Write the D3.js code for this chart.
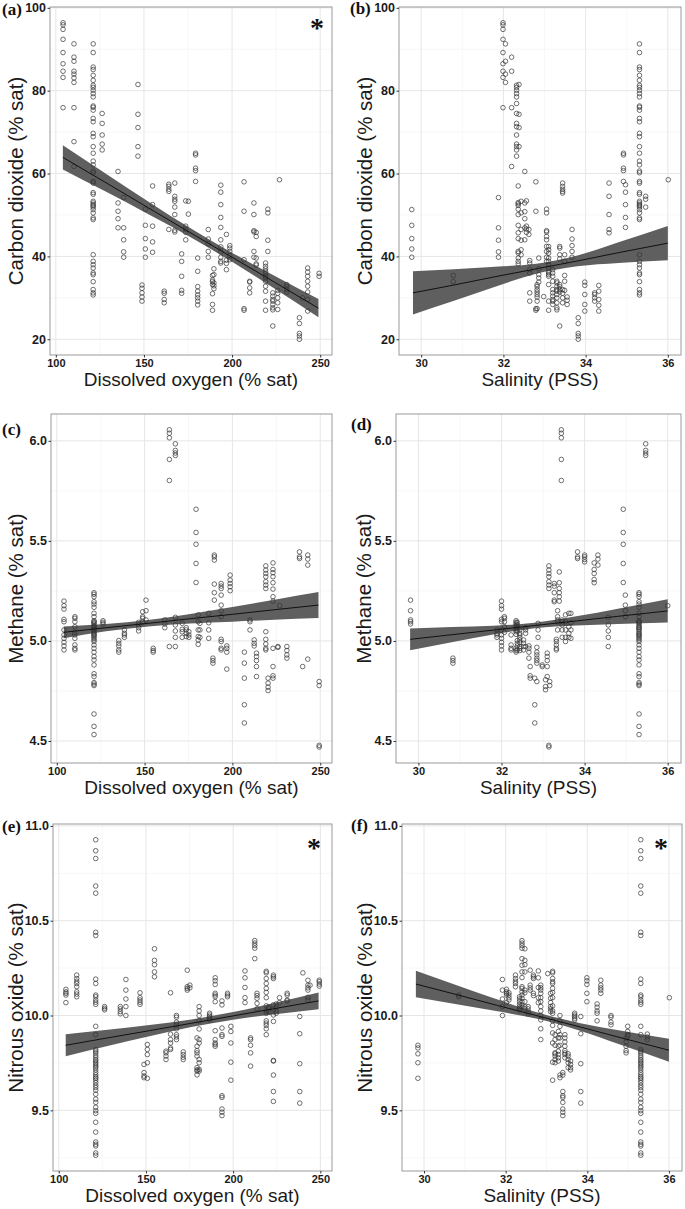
<!DOCTYPE html>
<html>
<head>
<meta charset="utf-8">
<script src="https://cdn.jsdelivr.net/npm/d3@7"></script>
<style>
  body { margin: 0; background: #fff; }
  svg { display: block; }
  .tick text { font-family: "Liberation Sans", Arial, sans-serif; font-weight: bold; fill: #1a1a1a; }
  .x-axis .tick text { font-size: 11px; }
  .y-axis .tick text { font-size: 12.5px; }
  .x-title { font-family: "Liberation Sans", Arial, sans-serif; font-size: 19px; fill: #1a1a1a; }
  .y-title { font-family: "Liberation Sans", Arial, sans-serif; font-size: 20.5px; fill: #1a1a1a; }
  .tag { font-family: "Liberation Serif", "Times New Roman", serif; font-weight: bold; font-size: 17px; fill: #111; }
  .star { font-family: "Liberation Serif", "Times New Roman", serif; font-weight: bold; font-size: 28px; fill: #111; }
</style>
</head>
<body>
<div id="chart"></div>
<script>
// ---- axis ticks ----
const doTicks = [100, 150, 200, 250];
const doMinor = [125, 175, 225];
const salTicks = [30, 32, 34, 36];
const salMinor = [31, 33, 35];
const co2Ticks = [20, 40, 60, 80, 100];
const co2Minor = [30, 50, 70, 90];
const ch4Ticks = [4.5, 5.0, 5.5, 6.0];
const ch4Minor = [4.75, 5.25, 5.75];
const n2oTicks = [9.5, 10.0, 10.5, 11.0];
const n2oMinor = [9.25, 9.75, 10.25, 10.75];

// ---- carbon dioxide ----
const co2Big = [91.3, 89.2, 85.7, 85.1, 83.7, 82.5, 81.3, 80.8, 80.1, 79.3, 78.5, 76.3, 76.0, 75.3, 73.3, 72.5, 69.7, 68.9, 66.5, 64.9, 63.0, 62.1, 60.6, 60.2, 58.1, 57.7, 55.4, 55.0, 53.3, 52.9, 52.5, 52.2, 51.9, 51.3, 50.5, 49.3, 48.9, 40.4, 38.8, 38.0, 37.2, 36.0, 35.6, 33.9, 32.0, 31.2, 30.7];
const co2Top = [96.4, 95.9, 94.8, 92.4, 89.2, 86.5, 84.7, 83.2, 75.9];

const doCO2 = [
  [104.1, co2Top],
  [110.3, [91.3, 88.1, 87.1, 84.7, 84.0, 83.1, 82.0, 75.9, 67.7, 61.7]],
  [121.2, co2Big],
  [126.3, [74.5, 72.1, 69.3, 67.1, 65.7]],
  [135.3, [60.5, 52.9, 50.9, 49.1, 46.9]],
  [138.5, [54.2, 46.9, 44.0, 41.1, 39.8]],
  [146.6, [81.5, 74.3, 71.1, 66.5, 64.2]],
  [148.9, [33.1, 32.3, 31.2, 30.2, 29.2]],
  [150.8, [51.4, 47.5, 44.3, 41.8, 39.8]],
  [154.9, [57.0, 52.5, 47.3, 43.5, 41.0]],
  [161.5, [31.6, 31.1, 29.6, 28.8]],
  [164.1, [57.4, 56.9, 56.2, 55.7, 46.5]],
  [167.5, [57.7, 54.5, 53.8, 53.3, 51.9, 50.1, 46.3, 45.9]],
  [171.4, [40.6, 38.8, 35.2, 31.8, 31.1]],
  [173.7, [53.4, 47.3, 46.6, 45.8, 44.0]],
  [175.2, [53.3, 50.2]],
  [179.3, [64.9, 64.5, 61.3, 60.7, 58.1]],
  [180.5, [39.6, 36.4, 32.7, 31.6, 30.7, 30.0, 29.2, 28.3]],
  [186.5, [46.5, 44.2, 43.0, 41.2, 39.8]],
  [188.9, [35.4, 34.3, 33.9, 33.2, 31.0, 28.4, 27.0]],
  [189.7, [37.0, 35.6, 33.6, 32.9, 32.2]],
  [193.6, [57.2, 55.5, 52.5, 49.4, 47.0, 44.0, 42.3, 41.1, 39.8, 38.8, 38.4]],
  [196.8, [45.3, 39.1, 38.3, 36.8]],
  [198.7, [42.6, 42.0, 41.2, 40.2, 39.2]],
  [206.8, [58.0, 50.9, 39.2, 27.4, 27.0]],
  [210.0, [34.0, 33.8, 32.4, 31.2]],
  [212.4, [52.9, 50.1, 46.2, 45.9, 41.2, 39.8]],
  [213.7, [45.8, 44.8, 39.6, 38.2, 37.9]],
  [219.0, [38.4, 37.6, 37.0, 36.4, 35.9, 35.2, 34.8, 34.0, 32.8, 31.6, 29.2, 27.0]],
  [220.3, [51.4, 50.5, 43.9, 41.2]],
  [223.1, [31.2, 30.4, 29.6, 29.2, 28.4, 27.6, 27.1, 23.2]],
  [225.9, [31.8, 31.1, 30.0, 28.8, 27.2]],
  [226.9, [58.5]],
  [231.0, [33.2, 32.7, 32.0, 31.4]],
  [238.2, [25.2, 23.8, 21.4, 20.8, 20.0]],
  [240.0, [30.0]],
  [242.9, [37.2, 36.2, 35.2, 34.0, 32.8, 31.4, 29.6, 26.8]],
  [249.4, [35.9, 35.2]]
];

const salCO2 = [
  [29.77, [51.3, 47.5, 44.3, 41.8, 39.8]],
  [30.78, [35.4, 33.9]],
  [31.88, [54.2, 46.9, 43.9, 41.1, 39.8]],
  [31.99, co2Top],
  [32.05, [91.3, 87.1, 84.0, 82.0]],
  [32.2, [88.1, 84.7, 75.9, 61.7]],
  [32.32, [81.3, 80.8, 80.1, 79.3, 78.5, 76.9, 74.5, 72.1, 71.3, 69.3, 67.1, 66.5, 65.7, 64.2]],
  [32.38, [81.5, 74.3, 71.1, 66.5]],
  [32.36, [57.0, 53.0, 52.7, 52.3, 51.4, 50.1, 47.5, 45.7, 44.3, 41.2, 40.8, 39.6, 38.8, 38.2]],
  [32.43, [53.3, 50.5, 46.5, 43.9, 41.6, 40.4]],
  [32.52, [60.5, 52.9, 50.8, 49.1, 46.9, 44.0]],
  [32.56, [53.4, 47.3, 46.6, 45.8]],
  [32.62, [46.5, 45.3]],
  [32.64, [39.0, 38.4, 36.8, 36.0, 31.2, 29.2]],
  [32.79, [58.0, 50.9, 27.4, 27.0]],
  [32.82, [33.2, 32.7, 32.0, 31.4, 30.8, 30.2, 29.2, 27.4]],
  [32.86, [39.6, 37.0, 35.6, 34.8, 33.8]],
  [32.98, [30.3]],
  [33.05, [51.4, 50.5, 46.2, 45.9, 44.8, 44.0, 42.4, 41.2, 39.8, 38.8]],
  [33.1, [42.4, 41.6, 40.8, 39.6, 38.8, 38.0, 37.2, 36.4, 36.0, 35.6, 35.2, 33.2, 29.2, 27.0]],
  [33.2, [36.8, 36.0, 35.2, 34.0, 32.0, 31.2, 30.4, 29.6, 29.2, 28.4]],
  [33.3, [34.0, 33.6, 32.8, 32.0, 31.6, 30.8, 30.0, 28.8, 27.6, 27.1]],
  [33.37, [42.4, 42.0, 40.4, 39.4, 33.2, 32.7, 32.0, 31.4, 23.2]],
  [33.44, [57.7, 56.9, 56.2, 55.7, 55.3, 32.0, 31.1, 30.0, 28.8]],
  [33.49, [40.4, 38.8, 35.4, 34.0, 31.8]],
  [33.55, [30.2, 29.4, 28.4]],
  [33.67, [46.5, 44.2, 42.6, 41.2, 39.8]],
  [33.82, [25.2, 23.8, 21.4, 20.8, 20.0]],
  [33.98, [33.8, 33.0, 30.8, 28.4, 26.8]],
  [34.22, [31.2, 30.8, 30.0, 29.2]],
  [34.32, [33.0, 31.6, 29.6, 28.2, 26.8]],
  [34.57, [57.7, 54.5, 50.1, 46.5, 45.7]],
  [34.92, [64.9, 64.5, 61.3, 60.7, 58.1]],
  [34.97, [57.3, 55.5, 52.5, 49.4, 47.0]],
  [35.31, co2Big],
  [35.46, [54.5, 53.8, 51.9]],
  [36.01, [58.5]]
];

// ---- methane ----
const ch4Big = [5.241, 5.233, 5.221, 5.196, 5.184, 5.168, 5.138, 5.121, 5.101, 5.096, 5.091, 5.085, 5.076, 5.071, 5.066, 5.060, 5.055, 5.046, 5.038, 5.033, 5.027, 5.022, 5.013, 5.005, 4.997, 4.980, 4.963, 4.944, 4.922, 4.905, 4.880, 4.836, 4.822, 4.792, 4.784, 4.777, 4.635, 4.573, 4.532];
const ch4Top = [5.199, 5.176, 5.159, 5.108, 5.096, 5.055, 5.030, 5.013, 4.993, 4.975, 4.955];

const doCH4 = [
  [104.1, ch4Top],
  [110.3, [5.121, 5.113, 5.096, 5.071, 5.043, 5.030, 5.013, 4.980, 4.963, 4.955]],
  [121.2, ch4Big],
  [126.3, [5.101, 5.093, 5.085]],
  [135.3, [5.002, 4.988, 4.975, 4.955, 4.944]],
  [138.5, [5.055, 5.038, 5.030, 5.018]],
  [146.6, [5.093, 5.080, 5.066, 5.050]],
  [148.9, [5.146, 5.121, 5.113, 5.096]],
  [150.8, [5.204, 5.151, 5.105]],
  [154.9, [4.963, 4.952, 4.944]],
  [161.5, [5.105, 5.085, 5.066]],
  [164.1, [6.055, 6.038, 6.015, 5.907, 5.802, 4.972]],
  [167.5, [5.985, 5.952, 5.939, 5.927, 5.118, 5.080, 5.050, 5.018, 4.972]],
  [171.4, [5.088, 5.058, 5.046, 5.018]],
  [173.7, [5.066, 5.055, 5.038, 5.022]],
  [175.2, [5.046, 5.030, 5.018]],
  [179.3, [5.658, 5.542, 5.483, 5.387, 5.292]],
  [180.5, [5.130, 5.096, 5.055, 5.022, 5.005, 4.983]],
  [181.5, [5.088, 5.055, 5.018]],
  [186.5, [5.138, 5.091, 5.055, 5.013]],
  [188.9, [4.914, 4.902, 4.889]],
  [189.7, [5.429, 5.420, 5.404, 5.284, 5.241, 5.204]],
  [193.6, [5.287, 5.274, 5.262, 5.229, 5.179, 5.151, 5.121, 5.008, 4.997, 4.963, 4.955]],
  [196.8, [4.975, 4.963, 4.944, 4.859]],
  [198.7, [5.329, 5.304, 5.287, 5.271, 5.251]],
  [206.8, [4.944, 4.889, 4.814, 4.681, 4.590]],
  [210.0, [5.105, 5.096, 5.055]],
  [212.4, [5.005, 4.988, 4.975]],
  [213.7, [4.939, 4.922, 4.902, 4.872, 4.822]],
  [219.0, [5.375, 5.354, 5.337, 5.321, 5.296, 5.279, 5.262, 5.046, 5.008, 4.985, 4.963, 4.955]],
  [220.3, [4.814, 4.789, 4.769, 4.752]],
  [223.1, [5.390, 5.357, 5.341, 5.321, 5.291, 5.259, 5.221, 5.199, 4.963, 4.872, 4.826, 4.814]],
  [225.9, [4.972, 4.968]],
  [226.9, [5.176]],
  [231.0, [4.972, 4.952, 4.930, 4.914]],
  [238.2, [5.445, 5.420, 5.412]],
  [240.0, [4.872]],
  [242.9, [5.429, 5.409, 5.379, 4.909]],
  [249.4, [4.797, 4.777, 4.478, 4.470]]
];

const salCH4 = [
  [29.81, [5.204, 5.151, 5.105, 5.096, 5.085]],
  [30.83, [4.914, 4.902, 4.889]],
  [31.89, [5.055, 5.038, 5.030, 5.018]],
  [32.0, ch4Top],
  [32.07, [5.121, 5.113, 5.096, 5.071, 5.043]],
  [32.23, [5.030, 4.980, 4.963, 4.955]],
  [32.35, [5.101, 5.093, 5.085, 5.076, 5.066, 5.055, 5.046, 5.033, 4.963, 4.952, 4.944]],
  [32.38, [5.093, 5.080, 5.066, 5.050, 5.002, 4.988, 4.975, 4.955]],
  [32.44, [5.055, 5.038, 5.030, 5.018, 5.005, 4.992, 4.972, 4.963, 4.952]],
  [32.53, [5.005, 4.988, 4.972, 4.955]],
  [32.58, [5.066, 5.055, 5.038, 4.972]],
  [32.66, [4.975, 4.963, 4.944, 4.914]],
  [32.69, [4.872, 4.826, 4.814]],
  [32.80, [4.814, 4.681, 4.590]],
  [32.85, [4.968, 4.944, 4.930, 4.914, 4.902, 4.889, 4.797]],
  [32.88, [5.088, 5.055, 5.018]],
  [32.98, [4.880, 4.872]],
  [33.06, [4.806, 4.772, 4.756]],
  [33.1, [4.939, 4.922, 4.902, 4.872, 4.822]],
  [33.14, [5.375, 5.354, 5.337, 5.321, 5.296, 5.279, 5.262, 4.478, 4.470]],
  [33.16, [4.797, 4.777]],
  [33.27, [5.287, 5.274, 5.241, 5.204, 5.196]],
  [33.32, [5.008, 4.997, 4.980, 4.963, 4.955]],
  [33.35, [5.151, 5.121, 5.105, 5.096, 5.055]],
  [33.39, [5.345, 5.291, 5.262, 5.241, 5.221, 5.199]],
  [33.44, [6.055, 6.038, 6.015, 5.907, 5.802]],
  [33.46, [5.105, 5.096, 5.080, 5.055, 5.018]],
  [33.54, [5.130, 5.096, 5.055, 5.018, 4.997]],
  [33.62, [5.138, 5.071, 5.038, 5.018]],
  [33.67, [5.138, 5.091, 5.055, 5.013]],
  [33.83, [5.445, 5.420, 5.412]],
  [34.0, [5.429, 5.420, 5.407, 5.395]],
  [34.23, [5.390, 5.357, 5.337, 5.307, 5.291]],
  [34.32, [5.429, 5.409, 5.379]],
  [34.57, [5.118, 5.080, 5.050, 5.018, 4.972]],
  [34.93, [5.658, 5.542, 5.483, 5.387, 5.292]],
  [34.98, [5.229, 5.179, 5.151, 5.121]],
  [35.31, ch4Big],
  [35.47, [5.985, 5.952, 5.939, 5.927]],
  [36.0, [5.176]]
];

// ---- nitrous oxide ----
const n2oBig = [10.927, 10.869, 10.828, 10.683, 10.645, 10.439, 10.422, 10.192, 10.169, 10.108, 10.099, 10.082, 10.070, 10.059, 9.943, 9.899, 9.821, 9.812, 9.803, 9.791, 9.780, 9.768, 9.760, 9.751, 9.742, 9.733, 9.725, 9.713, 9.699, 9.687, 9.676, 9.669, 9.659, 9.646, 9.632, 9.620, 9.606, 9.585, 9.559, 9.542, 9.516, 9.498, 9.484, 9.437, 9.385, 9.333, 9.321, 9.312, 9.275, 9.263];
const n2oTop = [10.138, 10.125, 10.117, 10.108, 10.068];

const doN2O = [
  [104.1, n2oTop],
  [110.3, [10.213, 10.195, 10.181, 10.169, 10.152, 10.125, 10.113, 10.099]],
  [121.2, n2oBig],
  [126.3, [10.047, 10.038, 10.030]],
  [135.3, [10.047, 10.035, 10.021, 10.009]],
  [138.5, [10.190, 10.134, 10.087, 10.047, 10.000]],
  [146.6, [10.120, 10.094, 10.082, 10.070, 10.059]],
  [148.9, [9.742, 9.699, 9.681, 9.672]],
  [150.8, [9.847, 9.821, 9.794, 9.751, 9.669]],
  [154.9, [10.352, 10.291, 10.268, 10.230, 10.204]],
  [161.5, [9.812, 9.803, 9.786, 9.768]],
  [164.1, [10.120, 9.902, 9.873, 9.855, 9.829, 9.821]],
  [167.5, [10.000, 9.991, 9.965, 9.951, 9.930, 9.899, 9.887, 9.873]],
  [171.4, [9.808, 9.794, 9.780, 9.768]],
  [173.7, [10.239, 10.152, 10.143, 10.134]],
  [175.2, [10.160, 10.146]],
  [179.3, [9.882, 9.838, 9.815, 9.803, 9.786, 9.725, 9.713, 9.707, 9.687]],
  [180.5, [10.047, 10.024, 10.000, 9.972, 9.929, 9.873, 9.855, 9.768, 9.751, 9.716, 9.707]],
  [186.5, [10.012, 10.003, 9.995, 9.986, 9.977]],
  [189.7, [10.199, 10.183, 10.164, 10.117, 10.108, 10.099, 10.073, 9.920, 9.873, 9.855, 9.847, 9.838]],
  [193.6, [10.077, 10.056, 9.934, 9.899, 9.890, 9.577, 9.568, 9.507, 9.490, 9.472]],
  [196.8, [10.117, 10.108, 10.099]],
  [198.7, [9.943, 9.916, 9.855, 9.754, 9.659]],
  [206.8, [10.235, 10.199, 10.148, 10.094, 10.068]],
  [210.0, [9.882, 9.873, 9.843, 9.803, 9.733]],
  [212.4, [10.395, 10.382, 10.369, 10.355, 10.300]],
  [213.7, [10.117, 10.105, 10.091, 10.064, 10.035]],
  [219.0, [10.233, 10.225, 10.195, 10.169, 10.143, 10.122, 10.094, 10.051, 10.024, 10.012, 9.972, 9.960, 9.948, 9.930, 9.899]],
  [220.3, [10.044, 10.035, 10.021]],
  [223.1, [10.213, 10.204, 10.195, 10.056, 10.035, 10.003, 9.969, 9.763, 9.760, 9.686, 9.599, 9.547]],
  [224.7, [10.061, 10.044, 10.024, 10.012]],
  [226.6, [10.094, 10.068]],
  [231.0, [10.117, 10.108, 10.082, 10.077]],
  [238.2, [9.995, 9.904, 9.746, 9.599, 9.538]],
  [240.0, [10.225]],
  [242.9, [10.186, 10.160, 10.146, 10.134, 10.096, 10.082]],
  [244.1, [10.160]],
  [249.4, [10.186, 10.178, 10.166, 10.155]]
];

const salN2O = [
  [29.85, [9.843, 9.829, 9.798, 9.751, 9.669]],
  [30.85, [10.108, 10.099]],
  [31.92, [10.190, 10.134, 10.087, 10.047, 10.000]],
  [32.02, n2oTop],
  [32.08, [10.120, 10.108, 10.094, 10.082]],
  [32.24, [10.213, 10.195, 10.181, 10.169, 10.152]],
  [32.34, [10.099, 10.087, 10.073, 10.059, 10.047, 10.038, 10.030]],
  [32.4, [10.395, 10.382, 10.369, 10.355, 10.300, 10.265, 10.230, 10.200, 10.152, 10.143, 10.125, 10.108, 10.091, 10.073, 10.056, 10.044]],
  [32.47, [10.352, 10.291, 10.268, 10.230, 10.134, 10.120, 10.073, 10.047, 10.035]],
  [32.55, [10.047, 10.035, 10.021, 10.009]],
  [32.6, [10.239, 10.160, 10.146, 10.134]],
  [32.68, [10.213, 10.204, 10.195, 10.117, 10.105]],
  [32.8, [10.235, 10.199, 10.148, 10.094, 10.068]],
  [32.86, [10.160, 10.146, 10.134, 10.117, 10.094, 10.073, 10.047, 10.024, 10.000, 9.977, 9.930, 9.873]],
  [33.03, [10.221]],
  [33.1, [10.117, 10.091, 10.068, 10.047, 10.035, 10.021]],
  [33.15, [10.233, 10.225, 10.195, 10.178, 10.169, 10.143, 10.122, 10.094, 10.051, 10.024, 10.012, 9.972, 9.948, 9.908, 9.855, 9.754, 9.659]],
  [33.21, [9.899, 9.873, 9.843, 9.803, 9.798, 9.786, 9.768, 9.751]],
  [33.29, [9.916, 9.882, 9.838, 9.812, 9.794, 9.777, 9.760]],
  [33.33, [10.000, 9.972, 9.943, 9.899, 9.882, 9.843, 9.686, 9.672]],
  [33.4, [9.699, 9.686, 9.599, 9.577, 9.568, 9.542, 9.507, 9.490, 9.472]],
  [33.45, [9.899, 9.882, 9.861, 9.838, 9.815, 9.803, 9.794, 9.777]],
  [33.53, [9.798, 9.786, 9.768, 9.751, 9.725]],
  [33.59, [9.760, 9.742, 9.725, 9.713]],
  [33.69, [10.012, 10.003, 9.995, 9.986, 9.977]],
  [33.84, [9.995, 9.904, 9.746, 9.599, 9.538]],
  [33.99, [10.199, 10.183, 10.164, 10.117, 10.073]],
  [34.24, [10.061, 10.044, 10.024, 10.012, 9.972]],
  [34.33, [10.186, 10.160, 10.146, 10.134, 10.117]],
  [34.58, [10.000, 9.991, 9.965, 9.951]],
  [34.95, [9.882, 9.861, 9.838, 9.815, 9.803]],
  [34.99, [9.943, 9.916, 9.899, 9.890]],
  [35.31, n2oBig],
  [35.47, [9.902, 9.887, 9.873]],
  [36.01, [10.094]]
];

// ---- linear fits: [x, fit, lower, upper] ----
const fitA = [[104, 63.9, 61.0, 66.8], [128, 57.9, 55.7, 60.1], [152, 51.85, 50.3, 53.4], [176, 45.8, 44.75, 46.9], [200, 39.8, 38.7, 40.9], [224, 33.8, 32.25, 35.3], [249, 27.5, 25.3, 29.7]];
const fitB = [[29.8, 31.2, 26.0, 36.4], [30.8, 33.1, 29.3, 36.9], [31.8, 35.1, 32.7, 37.5], [32.8, 37.0, 35.8, 38.2], [33.8, 38.9, 37.6, 40.2], [34.8, 40.9, 38.4, 43.4], [36.0, 43.2, 39.05, 47.35]];
const fitC = [[104, 5.043, 5.014, 5.072], [128, 5.066, 5.048, 5.084], [152, 5.088, 5.072, 5.104], [176, 5.111, 5.087, 5.135], [200, 5.133, 5.096, 5.170], [224, 5.156, 5.106, 5.206], [249, 5.179, 5.114, 5.244]];
const fitD = [[29.8, 5.008, 4.954, 5.062], [30.8, 5.031, 4.994, 5.069], [31.8, 5.054, 5.032, 5.076], [32.8, 5.077, 5.063, 5.091], [33.8, 5.100, 5.077, 5.123], [34.8, 5.123, 5.085, 5.161], [36.0, 5.150, 5.092, 5.208]];
const fitE = [[104, 9.843, 9.785, 9.901], [128, 9.882, 9.839, 9.925], [152, 9.920, 9.890, 9.950], [176, 9.959, 9.939, 9.979], [200, 9.998, 9.978, 10.018], [224, 10.037, 10.007, 10.067], [249, 10.077, 10.033, 10.121]];
const fitF = [[29.8, 10.166, 10.096, 10.236], [30.8, 10.110, 10.060, 10.160], [31.8, 10.053, 10.022, 10.084], [32.8, 9.997, 9.981, 10.014], [33.8, 9.941, 9.921, 9.961], [34.8, 9.884, 9.847, 9.921], [36.0, 9.817, 9.756, 9.878]];

const doDomain = [96.7, 256.7];
const salDomain = [29.46, 36.32];
const co2Domain = [16.2, 100.2];
const ch4Domain = [4.39, 6.134];
const n2oDomain = [9.18, 11.01];

const doAxis = {domain: doDomain, ticks: doTicks, minor: doMinor, fmt: d3.format("d"), title: "Dissolved oxygen (% sat)"};
const salAxis = {domain: salDomain, ticks: salTicks, minor: salMinor, fmt: d3.format("d"), title: "Salinity (PSS)"};
const co2Axis = {domain: co2Domain, ticks: co2Ticks, minor: co2Minor, fmt: d3.format("d"), title: "Carbon dioxide (% sat)"};
const ch4Axis = {domain: ch4Domain, ticks: ch4Ticks, minor: ch4Minor, fmt: d3.format(".1f"), title: "Methane (% sat)"};
const n2oAxis = {domain: n2oDomain, ticks: n2oTicks, minor: n2oMinor, fmt: d3.format(".1f"), title: "Nitrous oxide (% sat)"};

const panels = [
  {tag: "(a)", data: doCO2,  fit: fitA, xa: doAxis,  ya: co2Axis, box: {l: 50,  r: 332, t: 7,   b: 355},  tagPos: [2, 15],    yTitleX: 23,  star: [317, 37]},
  {tag: "(b)", data: salCO2, fit: fitB, xa: salAxis, ya: co2Axis, box: {l: 399, r: 681, t: 7,   b: 355},  tagPos: [350, 14],  yTitleX: 372},
  {tag: "(c)", data: doCH4,  fit: fitC, xa: doAxis,  ya: ch4Axis, box: {l: 51,  r: 332, t: 414, b: 763},  tagPos: [2, 435],   yTitleX: 23},
  {tag: "(d)", data: salCH4, fit: fitD, xa: salAxis, ya: ch4Axis, box: {l: 396, r: 681, t: 414, b: 763},  tagPos: [351, 430], yTitleX: 371},
  {tag: "(e)", data: doN2O,  fit: fitE, xa: doAxis,  ya: n2oAxis, box: {l: 53,  r: 332, t: 824, b: 1171}, tagPos: [2, 832],   yTitleX: 23,  star: [314, 857]},
  {tag: "(f)", data: salN2O, fit: fitF, xa: salAxis, ya: n2oAxis, box: {l: 402, r: 682, t: 824, b: 1171}, tagPos: [351, 831], yTitleX: 372, star: [661, 857]}
];

const svg = d3.select("#chart").append("svg")
    .attr("width", 685)
    .attr("height", 1209);

panels.forEach(drawPanel);

function drawPanel(p) {
    const b = p.box;
    const x = d3.scaleLinear().domain(p.xa.domain).range([b.l, b.r]);
    const y = d3.scaleLinear().domain(p.ya.domain).range([b.b, b.t]);
    const g = svg.append("g");

    // grid
    g.selectAll(".vminor").data(p.xa.minor).join("line")
        .attr("x1", d => x(d)).attr("x2", d => x(d)).attr("y1", b.t).attr("y2", b.b)
        .attr("stroke", "#f2f2f2").attr("stroke-width", 0.6);
    g.selectAll(".hminor").data(p.ya.minor).join("line")
        .attr("x1", b.l).attr("x2", b.r).attr("y1", d => y(d)).attr("y2", d => y(d))
        .attr("stroke", "#f2f2f2").attr("stroke-width", 0.6);
    g.selectAll(".vmajor").data(p.xa.ticks).join("line")
        .attr("x1", d => x(d)).attr("x2", d => x(d)).attr("y1", b.t).attr("y2", b.b)
        .attr("stroke", "#e6e6e6").attr("stroke-width", 1);
    g.selectAll(".hmajor").data(p.ya.ticks).join("line")
        .attr("x1", b.l).attr("x2", b.r).attr("y1", d => y(d)).attr("y2", d => y(d))
        .attr("stroke", "#e6e6e6").attr("stroke-width", 1);

    // confidence band
    const band = d3.area()
        .x(d => x(d[0]))
        .y0(d => y(d[2]))
        .y1(d => y(d[3]))
        .curve(d3.curveMonotoneX);
    g.append("path")
        .datum(p.fit)
        .attr("d", band)
        .attr("fill", "#5f5f5f");

    // points
    const pts = p.data.flatMap(([xv, ys]) => ys.map(yv => [xv, yv]));
    g.selectAll("circle.pt").data(pts).join("circle")
        .attr("class", "pt")
        .attr("cx", d => x(d[0]))
        .attr("cy", d => y(d[1]))
        .attr("r", 2.3)
        .attr("fill", "none")
        .attr("stroke", "#333")
        .attr("stroke-width", 0.7);

    // fit line
    const line = d3.line().x(d => x(d[0])).y(d => y(d[1]));
    g.append("path")
        .datum(p.fit)
        .attr("d", line)
        .attr("fill", "none")
        .attr("stroke", "#111")
        .attr("stroke-width", 1);

    // border
    g.append("rect")
        .attr("x", b.l).attr("y", b.t)
        .attr("width", b.r - b.l).attr("height", b.b - b.t)
        .attr("fill", "none")
        .attr("stroke", "#9a9a9a")
        .attr("stroke-width", 1);

    // axes
    const xg = g.append("g")
        .attr("class", "x-axis")
        .attr("transform", `translate(0,${b.b})`)
        .call(d3.axisBottom(x).tickValues(p.xa.ticks).tickFormat(p.xa.fmt).tickSize(2.5).tickPadding(1.5));
    const yg = g.append("g")
        .attr("class", "y-axis")
        .attr("transform", `translate(${b.l},0)`)
        .call(d3.axisLeft(y).tickValues(p.ya.ticks).tickFormat(p.ya.fmt).tickSize(2.5).tickPadding(1.5));
    [xg, yg].forEach(a => {
        a.select(".domain").remove();
        a.selectAll(".tick line").attr("stroke", "#333");
        a.attr("font-size", null).attr("font-family", null);
    });

    // titles
    g.append("text")
        .attr("class", "x-title")
        .attr("x", (b.l + b.r) / 2)
        .attr("y", b.b + 31)
        .attr("text-anchor", "middle")
        .text(p.xa.title);
    g.append("text")
        .attr("class", "y-title")
        .attr("transform", `translate(${p.yTitleX},${(b.t + b.b) / 2}) rotate(-90)`)
        .attr("text-anchor", "middle")
        .text(p.ya.title);

    // panel tag
    g.append("text")
        .attr("class", "tag")
        .attr("x", p.tagPos[0])
        .attr("y", p.tagPos[1])
        .text(p.tag);

    if (p.star) {
        g.append("text")
            .attr("class", "star")
            .attr("x", p.star[0])
            .attr("y", p.star[1])
            .attr("text-anchor", "middle")
            .text("*");
    }
}
</script>
</body>
</html>
